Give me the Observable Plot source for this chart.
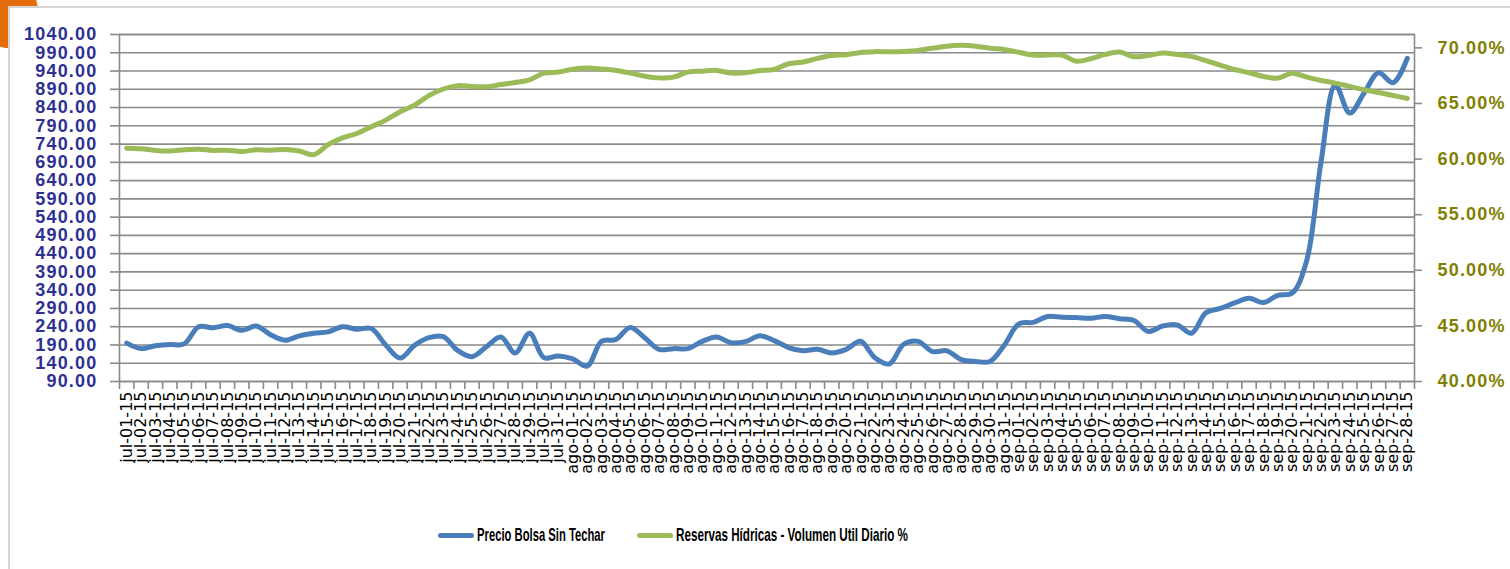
<!DOCTYPE html>
<html>
<head>
<meta charset="utf-8">
<script src="https://cdn.jsdelivr.net/npm/d3@7"></script>
<script src="https://cdn.jsdelivr.net/npm/@observablehq/plot@0.6"></script>
<style>
  html, body { margin: 0; padding: 0; background: #fff; }
  #page { position: relative; width: 1510px; height: 569px; overflow: hidden; background: #fff; }
  #corner { position: absolute; left: -22px; top: -24px; width: 60px; height: 72px; border-radius: 50%; background: #E46C0A; }
  #box { position: absolute; left: 8px; top: 6px; width: 1520px; height: 580px; border-left: 2px solid #d4d4d4; border-top: 2px solid #d4d4d4; background: #fff; }
  #chart { position: absolute; left: 0; top: 0; }
  #chart svg g[aria-label="y-axis tick label"] text { letter-spacing: 1.2px; }
  .legend { position: absolute; top: 524px; height: 22px; display: flex; align-items: center;
            font-family: "Liberation Sans", Arial, sans-serif;
            font-weight: bold; font-size: 19px; color: #000; white-space: nowrap; }
  .swatch { display: inline-block; width: 36px; height: 5px; border-radius: 3px; margin-right: 3px; flex: none; }
  .ltext { display: inline-block; transform-origin: 0 50%; }
</style>
</head>
<body>
<div id="page">
  <div id="corner"></div>
  <div id="box"></div>
  <div id="chart"></div>
  <div class="legend" style="left:438px"><span class="swatch" style="background:#4A7EBB"></span><span class="ltext" data-w="128">Precio Bolsa Sin Techar</span></div>
  <div class="legend" style="left:637px"><span class="swatch" style="background:#9BBB59"></span><span class="ltext" data-w="232">Reservas Hídricas - Volumen Util Diario %</span></div>
</div>
<script>
// Categories (daily dates)
const fechas = [
  "jul-01-15","jul-02-15","jul-03-15","jul-04-15","jul-05-15","jul-06-15","jul-07-15","jul-08-15","jul-09-15","jul-10-15",
  "jul-11-15","jul-12-15","jul-13-15","jul-14-15","jul-15-15","jul-16-15","jul-17-15","jul-18-15","jul-19-15","jul-20-15",
  "jul-21-15","jul-22-15","jul-23-15","jul-24-15","jul-25-15","jul-26-15","jul-27-15","jul-28-15","jul-29-15","jul-30-15",
  "jul-31-15","ago-01-15","ago-02-15","ago-03-15","ago-04-15","ago-05-15","ago-06-15","ago-07-15","ago-08-15","ago-09-15",
  "ago-10-15","ago-11-15","ago-12-15","ago-13-15","ago-14-15","ago-15-15","ago-16-15","ago-17-15","ago-18-15","ago-19-15",
  "ago-20-15","ago-21-15","ago-22-15","ago-23-15","ago-24-15","ago-25-15","ago-26-15","ago-27-15","ago-28-15","ago-29-15",
  "ago-30-15","ago-31-15","sep-01-15","sep-02-15","sep-03-15","sep-04-15","sep-05-15","sep-06-15","sep-07-15","sep-08-15",
  "sep-09-15","sep-10-15","sep-11-15","sep-12-15","sep-13-15","sep-14-15","sep-15-15","sep-16-15","sep-17-15","sep-18-15",
  "sep-19-15","sep-20-15","sep-21-15","sep-22-15","sep-23-15","sep-24-15","sep-25-15","sep-26-15","sep-27-15","sep-28-15"
];

// Series 1: Precio Bolsa Sin Techar (left axis)
const precioBolsa = [
  195,180,188,191,193,240,237,243,230,242,
  218,203,215,222,226,240,233,235,190,154,
  189,210,213,175,158,185,212,168,222,155,
  160,152,132,200,205,238,210,178,180,180,
  200,212,196,199,215,202,183,174,178,168,
  178,200,155,138,192,200,172,174,150,145,
  145,190,248,252,268,266,265,263,268,262,
  257,227,242,245,222,278,290,305,318,306,
  326,332,420,690,902,825,880,935,908,975
];

// Series 2: Reservas Hídricas - Volumen Util Diario % (right axis, percent)
const reservas = [
  60.98,60.93,60.78,60.72,60.84,60.88,60.78,60.80,60.68,60.84,
  60.80,60.86,60.72,60.40,61.30,61.90,62.30,62.90,63.50,64.25,
  64.85,65.70,66.30,66.60,66.53,66.50,66.70,66.88,67.13,67.72,
  67.82,68.08,68.18,68.10,67.97,67.73,67.45,67.30,67.37,67.82,
  67.90,67.97,67.73,67.75,67.97,68.05,68.57,68.72,69.05,69.32,
  69.38,69.59,69.66,69.65,69.68,69.77,69.97,70.15,70.24,70.15,
  69.97,69.86,69.60,69.35,69.35,69.35,68.80,69.02,69.41,69.62,
  69.20,69.32,69.53,69.41,69.23,68.85,68.45,68.05,67.76,67.43,
  67.28,67.72,67.37,67.07,66.83,66.53,66.23,65.99,65.72,65.45
];

// Tick values
const leftTicks = [90,140,190,240,290,340,390,440,490,540,590,640,690,740,790,840,890,940,990,1040];
const rightTicks = [40,45,50,55,60,65,70];

// Axis domains
const leftDomain = [90, 1040];
const rightDomain = [40, 71.2];

const toLeft = p => leftDomain[0] + (p - rightDomain[0]) * (leftDomain[1] - leftDomain[0]) / (rightDomain[1] - rightDomain[0]);
const toRight = v => rightDomain[0] + (v - leftDomain[0]) * (rightDomain[1] - rightDomain[0]) / (leftDomain[1] - leftDomain[0]);

const precioData = precioBolsa.map((v, i) => ({i, v}));
const reservasData = reservas.map((p, i) => ({i, p}));
const idx = fechas.map((_, i) => i);
const bounds = fechas.map((_, i) => i - 0.5).concat([fechas.length - 0.5]);

const axisFont = "Liberation Sans, Arial, sans-serif";
const grid = "#8a8a8a";

const chart = Plot.plot({
  width: 1510,
  height: 500,
  marginTop: 34,
  marginBottom: 119,
  marginLeft: 119,
  marginRight: 96,
  style: {background: "transparent", overflow: "visible"},
  x: {type: "linear", domain: [-0.5, fechas.length - 0.5]},
  y: {domain: leftDomain},
  marks: [
    Plot.gridY(leftTicks, {stroke: grid, strokeOpacity: 1, strokeWidth: 1.6}),
    Plot.frame({stroke: grid, strokeWidth: 1.6}),
    Plot.axisY(leftTicks, {
      anchor: "left", tickSize: 9, tickPadding: 13, label: null,
      tickFormat: d => d.toFixed(2),
      stroke: grid, strokeWidth: 1.6, fill: "#2E3192",
      fontSize: 18, fontWeight: "bold", fontFamily: axisFont
    }),
    Plot.axisY(rightTicks.map(toLeft), {
      anchor: "right", tickSize: 7, tickPadding: 16, label: null,
      tickFormat: v => toRight(v).toFixed(2) + "%",
      stroke: grid, strokeWidth: 1.6, fill: "#7F7F00",
      fontSize: 18, fontWeight: "bold", fontFamily: axisFont
    }),
    Plot.axisX(bounds, {
      anchor: "bottom", tickSize: 8, tickFormat: () => "", label: null,
      stroke: grid, strokeWidth: 1.6
    }),
    Plot.axisX(idx, {
      anchor: "bottom", tickSize: 0, tickPadding: 10, tickRotate: -90, label: null,
      tickFormat: i => fechas[i],
      fill: "#000", fontSize: 16, fontFamily: "DejaVu Sans, sans-serif"
    }),
    Plot.line(precioData, {
      x: "i", y: "v", stroke: "#4A7EBB", strokeWidth: 5,
      curve: "catmull-rom", strokeLinejoin: "round", strokeLinecap: "round"
    }),
    Plot.line(reservasData, {
      x: "i", y: d => toLeft(d.p), stroke: "#9BBB59", strokeWidth: 5,
      curve: "catmull-rom", strokeLinejoin: "round", strokeLinecap: "round"
    })
  ]
});
document.getElementById("chart").appendChild(chart);

// fit legend texts to their widths
document.querySelectorAll(".ltext").forEach(el => {
  const w = el.getBoundingClientRect().width;
  const target = +el.dataset.w;
  if (w > 0) el.style.transform = `scaleX(${target / w})`;
});
</script>
</body>
</html>
